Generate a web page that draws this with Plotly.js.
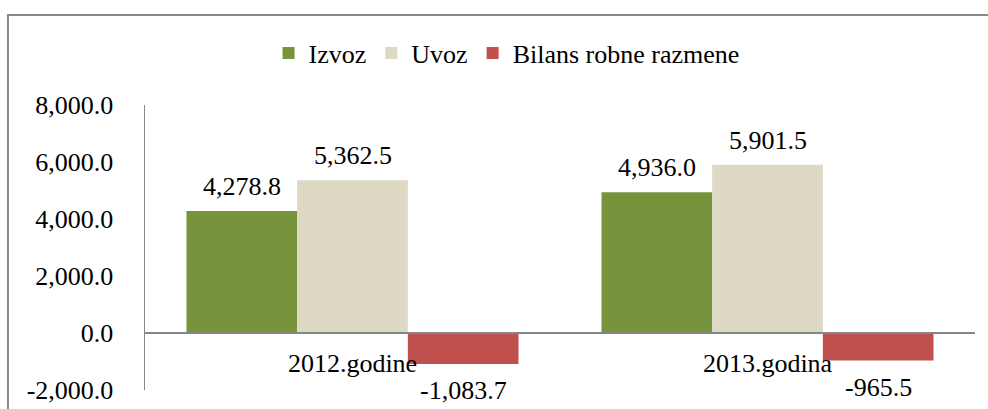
<!DOCTYPE html>
<html>
<head>
<meta charset="utf-8">
<script src="https://cdn.plot.ly/plotly-3.0.1.min.js"></script>
<style>
  html, body { margin: 0; padding: 0; background: #ffffff; }
  #chart { width: 988px; height: 409px; }
</style>
</head>
<body>
<div id="chart"></div>
<script>
// ---- Data ----
var categories = ["2012.godine", "2013.godina"];
var seriesNames = ["Izvoz", "Uvoz", "Bilans robne razmene"];
var izvoz = [4278.8, 4936.0];
var uvoz = [5362.5, 5901.5];
var bilans = [-1083.7, -965.5];
var yTickVals = [-2000, 0, 2000, 4000, 6000, 8000];

// ---- Styles ----
var colors = ["#77933C", "#DDD9C4", "#C0504D"];
var FONT = "Liberation Serif";
var FS = 26;
var BARGAP = 0.2;

var seriesValues = [izvoz, uvoz, bilans];

function fmt(v) {
  var s = Math.abs(v).toFixed(1);
  var parts = s.split(".");
  parts[0] = parts[0].replace(/\B(?=(\d{3})+(?!\d))/g, ",");
  return (v < 0 ? "-" : "") + parts.join(".");
}

var traces = seriesValues.map(function (vals, k) {
  return {
    type: "bar",
    name: seriesNames[k],
    x: categories,
    y: vals,
    marker: { color: colors[k], line: { width: 0 } },
    hoverinfo: "skip"
  };
});

// data labels as annotations placed through the axes
var nS = seriesValues.length;
var barW = (1 - BARGAP) / nS;
var annotations = [];
seriesValues.forEach(function (vals, k) {
  vals.forEach(function (v, i) {
    var xpos = i + (k - (nS - 1) / 2) * barW;
    annotations.push({
      x: xpos, y: v, xref: "x", yref: "y",
      text: fmt(v),
      showarrow: false,
      xanchor: "center",
      yanchor: v >= 0 ? "bottom" : "top",
      yshift: v >= 0 ? 8 : -10,
      font: { family: FONT, size: FS, color: "#000000" }
    });
  });
});

var layout = {
  width: 988,
  height: 409,
  margin: { l: 145, r: 13, t: 105, b: 19 },
  paper_bgcolor: "#ffffff",
  plot_bgcolor: "#ffffff",
  font: { family: FONT, size: FS, color: "#000000" },
  barmode: "group",
  bargap: BARGAP,
  bargroupgap: 0,
  showlegend: true,
  legend: {
    orientation: "h",
    x: 0.4356, xanchor: "center",
    y: 1.182, yanchor: "middle",
    font: { family: FONT, size: FS, color: "#000000" },
    itemwidth: 30,
    tracegroupgap: 0,
    bgcolor: "rgba(0,0,0,0)"
  },
  xaxis: {
    type: "category",
    anchor: "free",
    position: 0.2,
    showline: true,
    linecolor: "#868686",
    linewidth: 2,
    showgrid: false,
    zeroline: false,
    ticks: "",
    ticklabelstandoff: 7,
    tickfont: { family: FONT, size: FS, color: "#000000" },
    fixedrange: true
  },
  yaxis: {
    range: [-2000, 8000],
    tickvals: yTickVals,
    ticktext: yTickVals.map(fmt),
    showline: true,
    linecolor: "#868686",
    linewidth: 1.5,
    showgrid: false,
    zeroline: false,
    ticks: "",
    ticklabelstandoff: 25,
    tickfont: { family: FONT, size: FS, color: "#000000" },
    fixedrange: true
  },
  annotations: annotations,
  shapes: [{
    type: "rect",
    xref: "paper", yref: "paper",
    x0: -0.1651, x1: 1.03,
    y0: -0.12, y1: 1.3158,
    line: { color: "#898989", width: 2 },
    fillcolor: "rgba(0,0,0,0)",
    layer: "below"
  }]
};

Plotly.newPlot("chart", traces, layout, { displayModeBar: false, staticPlot: true });
</script>
</body>
</html>
